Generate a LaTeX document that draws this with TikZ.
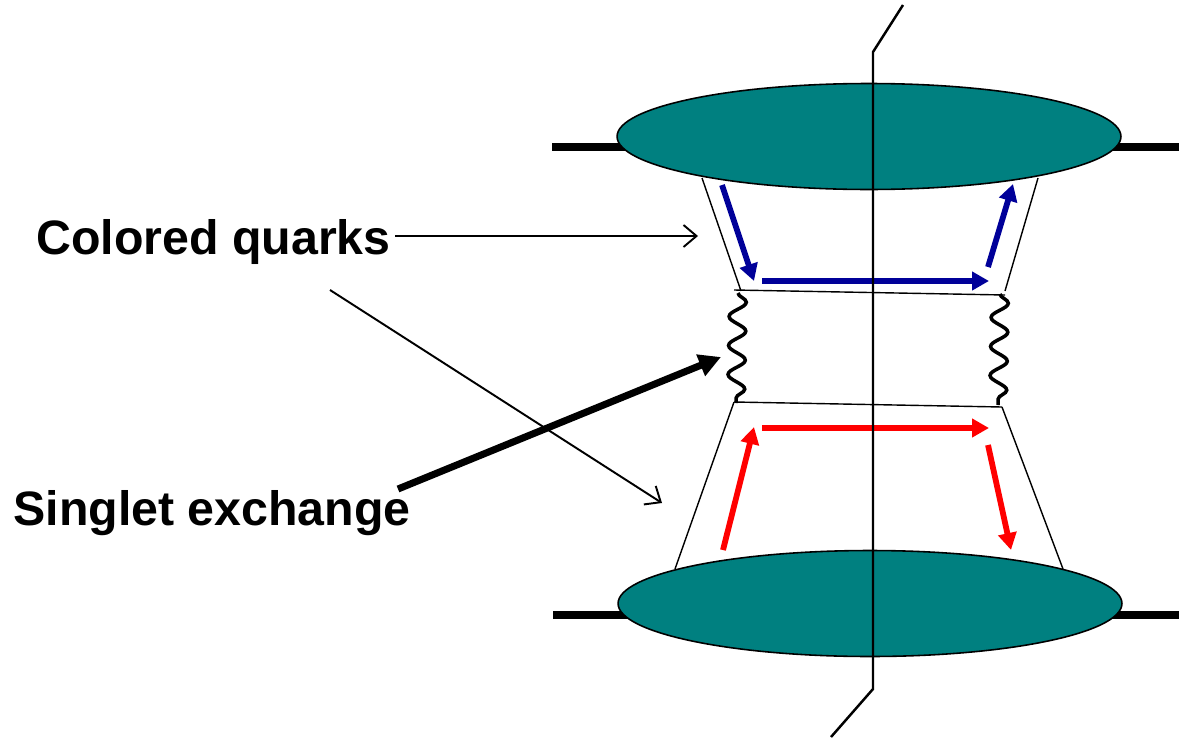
\documentclass[tikz,border=0pt]{standalone}
\usepackage{fontspec}
\setmainfont{Liberation Sans}
\usetikzlibrary{shapes.geometric,arrows.meta,decorations.pathmorphing}
\definecolor{tealfill}{RGB}{0,128,128}
\definecolor{qblue}{RGB}{0,0,153}
\definecolor{qred}{RGB}{255,0,0}
\tikzset{
  blob/.style={ellipse, draw=black, line width=0.9pt, fill=tealfill, inner sep=0pt,
               minimum width=10.08cm, minimum height=2.12cm},
  bar/.style={line width=4pt},
  cutline/.style={line width=1.4pt},
  frameline/.style={line width=0.8pt},
  gluon/.style={line width=2pt, decorate,
    decoration={snake, segment length=0.58cm, amplitude=0.17cm}},
  bluearrow/.style={qblue, line width=3.3pt, -{Triangle[length=0.34cm, width=0.36cm]}},
  redarrow/.style={qred, line width=3.3pt, -{Triangle[length=0.34cm, width=0.36cm]}},
  labelarrow/.style={line width=1.1pt, -{Straight Barb[length=0.26cm, width=0.44cm]}},
  thickarrow/.style={line width=4pt, -{Triangle[length=0.44cm, width=0.44cm]}},
  lbl/.style={font=\fontsize{27.5}{32}\selectfont\bfseries, inner sep=0pt, anchor=base west}
}
\begin{document}
\begin{tikzpicture}[x=0.02cm, y=-0.02cm]
\useasboundingbox (0,0) rectangle (1179,737);
% bars behind blobs
\coordinate (tbl) at (552,147);
\coordinate (tbr) at (1179,147);
\coordinate (bbl) at (553,615);
\coordinate (bbr) at (1179,615);
\draw[bar] (tbl) -- (tbr);
\draw[bar] (bbl) -- (bbr);
% blobs
\node[blob] (top) at (869,136.5) {};
\node[blob] (bot) at (870,603.5) {};
% frame lines
\coordinate (a1) at (702,178);
\coordinate (a2) at (741,291);
\coordinate (b1) at (1038,178);
\coordinate (b2) at (1005,291);
\coordinate (h1l) at (734,290);
\coordinate (h1r) at (1005,295);
\coordinate (h2l) at (734,402);
\coordinate (h2r) at (1002,407);
\coordinate (c1) at (675,569);
\coordinate (d1) at (1063,569);
\draw[frameline] (a1) -- (a2);
\draw[frameline] (b1) -- (b2);
\draw[frameline] (h1l) -- (h1r);
\draw[frameline] (h2l) -- (h2r);
\draw[frameline] (h2l) -- (c1);
\draw[frameline] (h2r) -- (d1);
% gluons
\coordinate (g1t) at (738,293);
\coordinate (g1b) at (736,403);
\coordinate (g2t) at (1000,294);
\coordinate (g2b) at (998,405);
\draw[gluon] (g1t) -- (g1b);
\draw[gluon] (g2t) -- (g2b);
% blue arrows
\coordinate (q1) at (722,185);
\coordinate (q2) at (754,281);
\coordinate (q3) at (762,281);
\coordinate (q4) at (989,281);
\coordinate (q5) at (988,267);
\coordinate (q6) at (1013,184);
\draw[bluearrow] (q1) -- (q2);
\draw[bluearrow] (q3) -- (q4);
\draw[bluearrow] (q5) -- (q6);
% red arrows
\coordinate (r1) at (723,550);
\coordinate (r2) at (754,427);
\coordinate (r3) at (762,428);
\coordinate (r4) at (989,428);
\coordinate (r5) at (988,445);
\coordinate (r6) at (1011,550);
\draw[redarrow] (r1) -- (r2);
\draw[redarrow] (r3) -- (r4);
\draw[redarrow] (r5) -- (r6);
% cut line
\coordinate (v0) at (903,5);
\coordinate (v1) at (873,52);
\coordinate (v2) at (873,689);
\coordinate (v3) at (831,737);
\draw[cutline] (v0) -- (v1) -- (v2) -- (v3);
% labels
\node[lbl] (cq) at (36,254) {Colored quarks};
\node[lbl] (se) at (13,525) {Singlet exchange};
\coordinate (l1s) at (395,236);
\coordinate (l1e) at (698,236);
\coordinate (l2s) at (330,290);
\coordinate (l2e) at (662,503);
\coordinate (l3s) at (398,489);
\coordinate (l3e) at (721,357);
\draw[labelarrow] (l1s) -- (l1e);
\draw[labelarrow] (l2s) -- (l2e);
\draw[thickarrow] (l3s) -- (l3e);
\end{tikzpicture}
\end{document}
